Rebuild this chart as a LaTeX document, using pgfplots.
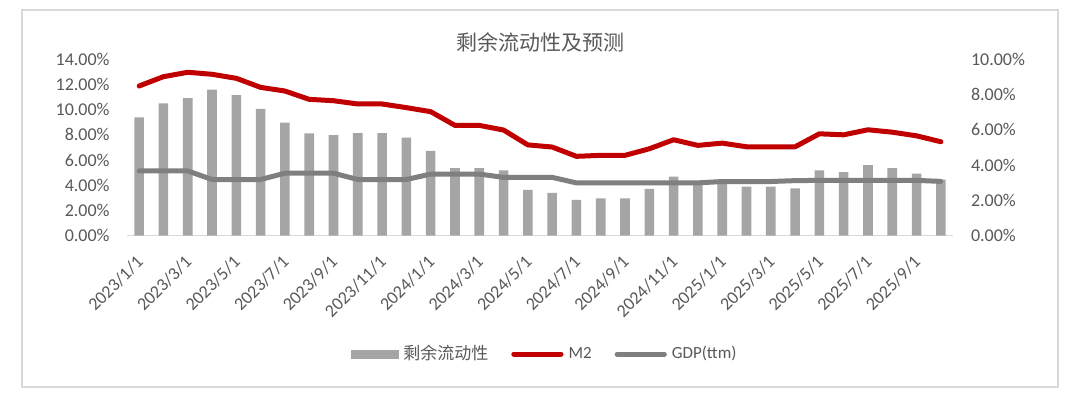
\documentclass[border=0pt]{standalone}
\usepackage{pgfplots}
\pgfplotsset{compat=1.18}
\usepackage{pgfplotstable}
\usepackage{fontspec}
\setmainfont{Carlito}
\newfontfamily\cjk{Noto Sans CJK SC}
\definecolor{barc}{HTML}{A5A5A5}
\definecolor{m2c}{HTML}{C00000}
\definecolor{gdpc}{HTML}{7F7F7F}
\definecolor{txt}{HTML}{595959}
\definecolor{axl}{HTML}{D9D9D9}

\pgfplotstableread{
x bar m2 gdp
0 6.70 11.88 5.13
1 7.50 12.62 5.13
2 7.80 12.97 5.13
3 8.28 12.81 4.45
4 7.97 12.49 4.45
5 7.18 11.77 4.45
6 6.40 11.48 4.95
7 5.80 10.82 4.95
8 5.70 10.71 4.95
9 5.81 10.45 4.45
10 5.81 10.45 4.45
11 5.55 10.16 4.45
12 4.81 9.84 4.88
13 3.83 8.75 4.88
14 3.83 8.75 4.88
15 3.69 8.38 4.62
16 2.59 7.20 4.62
17 2.42 7.03 4.62
18 2.02 6.29 4.18
19 2.11 6.37 4.18
20 2.11 6.37 4.18
21 2.64 6.89 4.18
22 3.34 7.61 4.18
23 3.00 7.16 4.18
24 3.05 7.34 4.29
25 2.77 7.05 4.29
26 2.77 7.05 4.29
27 2.68 7.05 4.36
28 3.70 8.08 4.38
29 3.60 8.00 4.38
30 4.00 8.40 4.38
31 3.82 8.21 4.38
32 3.51 7.92 4.38
33 3.17 7.45 4.30
}\data

\pgfplotsset{common/.style={
  at={(63.5pt,84.25pt)}, anchor=south west,
  scale only axis, width=413pt, height=88.1pt,
  xmin=-0.5, xmax=33.5, ymin=0,
  /pgf/number format/assume math mode=true,
  tick style={draw=none},
  ticklabel style={font=\fontsize{9}{10}\selectfont, text=txt},
  y axis line style={draw=none},
}}

\begin{document}
\begin{tikzpicture}
\useasboundingbox (0,0) rectangle (540pt,202pt);
\fill[white] (0,0) rectangle (540pt,202pt);
\draw[axl, line width=0.75pt] (11pt,8.5pt) rectangle (529pt,197pt);

\begin{axis}[common,
  ymax=10,
  axis y line*=right, axis x line*=bottom,
  x axis line style={draw=axl, line width=0.75pt, -},
  xtick={0,2,...,32},
  xticklabels={2023/1/1,2023/3/1,2023/5/1,2023/7/1,2023/9/1,2023/11/1,2024/1/1,2024/3/1,2024/5/1,2024/7/1,2024/9/1,2024/11/1,2025/1/1,2025/3/1,2025/5/1,2025/7/1,2025/9/1},
  xticklabel style={rotate=45, anchor=east, inner sep=0pt, xshift=-7.95pt, yshift=-8.66pt},
  ytick={0,2,...,10},
  yticklabel={\pgfmathprintnumber[fixed,fixed zerofill,precision=2]{\tick}\%},
  yticklabel style={anchor=west, inner sep=0pt, xshift=8.8pt},
]
\addplot[ybar, bar width=4.8pt, fill=barc, draw=none] table[x=x,y=bar]{\data};
\end{axis}

\begin{axis}[common,
  ymax=14,
  axis y line*=left, axis x line=none,
  ytick={0,2,...,14},
  yticklabel={\pgfmathprintnumber[fixed,fixed zerofill,precision=2]{\tick}\%},
  yticklabel style={anchor=east, inner sep=0pt, xshift=-8.5pt},
  title={剩余流动性及预测},
  title style={font=\fontsize{10.5}{12}\selectfont\cjk, text=txt, at={(0.5,1)}, anchor=center, yshift=2.5pt},
  legend style={at={(0.5,-0.6725)}, anchor=center, xshift=2pt, draw=none, fill=none,
    font=\fontsize{8.5}{10}\selectfont, text=txt,
    nodes={inner sep=0.5pt},
    /tikz/every odd column/.append style={column sep=2pt},
    /tikz/every even column/.append style={column sep=11pt}},
  legend columns=-1,
]
\addlegendimage{legend image code/.code={\fill[barc] (0pt,-2pt) rectangle (23.5pt,2pt);}}
\addplot[m2c, line width=2.5pt, line cap=round, line join=round,
  legend image code/.code={\draw[m2c, line width=2.5pt, line cap=round] (1.2pt,0pt) -- (24.8pt,0pt);}]
  table[x=x,y=m2]{\data};
\addplot[gdpc, line width=2.5pt, line cap=round, line join=round,
  legend image code/.code={\draw[gdpc, line width=2.5pt, line cap=round] (1.2pt,0pt) -- (24.8pt,0pt);}]
  table[x=x,y=gdp]{\data};
\legend{{\cjk 剩余流动性},M2,GDP(ttm)}
\end{axis}
\end{tikzpicture}
\end{document}
